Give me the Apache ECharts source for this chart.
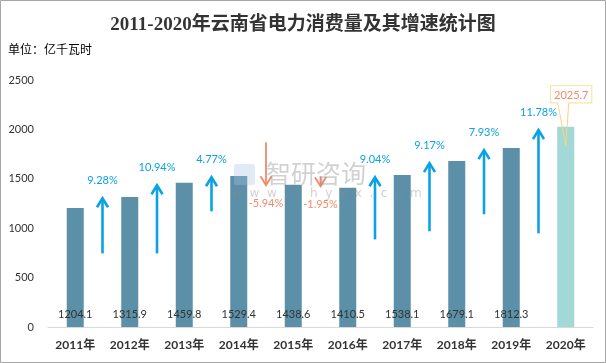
<!DOCTYPE html>
<html>
<head>
<meta charset="utf-8">
<script src="https://cdn.jsdelivr.net/npm/echarts@6/dist/echarts.min.js"></script>
<style>html,body{margin:0;padding:0;background:#fff;}#c{width:606px;height:363px;}</style>
</head>
<body>
<div id="c"></div>
<script>
const categories = ['2011年','2012年','2013年','2014年','2015年','2016年','2017年','2018年','2019年','2020年'];
const consumption = [1204.1, 1315.9, 1459.8, 1529.4, 1438.6, 1410.5, 1538.1, 1679.1, 1812.3, 2025.7];
const growthLabels = ['9.28%','10.94%','4.77%','-5.94%','-1.95%','9.04%','9.17%','7.93%','11.78%'];
// decorative arrows between consecutive years (start / end, in axis units)
const arrowFrom = [745, 745, 1171, 1871, 1526, 887, 969, 1141, 948];
const arrowTo   = [1303, 1435, 1516, 1435, 1425, 1516, 1658, 1790, 1993];
const yTicks = [0, 500, 1000, 1500, 2000, 2500];

const numFont = "Lato, 'Noto Sans CJK SC', sans-serif";
const chart = echarts.init(document.getElementById('c'), null, {renderer: 'canvas'});

function renderArrow(params, api) {
  const i = api.value(0);
  const half = api.size([1, 0])[0] / 2;
  const p1 = api.coord([i, api.value(1)]);
  const p2 = api.coord([i, api.value(2)]);
  const x = p1[0] + half;
  const up = api.value(2) > api.value(1);
  const color = up ? '#0aa2e2' : '#f08a6c';
  const lw = up ? 2.6 : 1.8;
  const y1 = p1[1], y2 = p2[1];
  const dir = up ? 1 : -1;
  const hw = 5.5, hh = 9;
  return {
    type: 'group',
    children: [
      {type: 'line', shape: {x1: x, y1: y1, x2: x, y2: y2 + dir * 1}, style: {stroke: color, lineWidth: lw}},
      {type: 'polyline', shape: {points: [[x - hw, y2 + dir * hh], [x, y2], [x + hw, y2 + dir * hh]]}, style: {stroke: color, lineWidth: lw, fill: null}},
      {type: 'text', x: x, y: up ? y2 - 18 : y2 + 18, style: {text: growthLabels[params.dataIndex], fill: color, font: '11px ' + numFont, align: 'center', verticalAlign: 'middle'}}
    ]
  };
}

const option = {
  backgroundColor: '#fff',
  animation: false,
  title: {
    text: '2011-2020年云南省电力消费量及其增速统计图',
    left: 'center', top: 11,
    textStyle: {fontFamily: "'Liberation Serif', 'Noto Sans CJK SC', serif", fontSize: 19, fontWeight: 'bold', color: '#333'}
  },
  grid: {left: 48, right: 13, top: 80, bottom: 36},
  xAxis: {
    type: 'category', data: categories,
    axisLine: {lineStyle: {color: '#d9d9d9', width: 1}},
    axisTick: {show: false},
    axisLabel: {color: '#333', fontWeight: 'bold', fontSize: 12, fontFamily: numFont, margin: 12}
  },
  yAxis: {
    type: 'value', min: yTicks[0], max: yTicks[yTicks.length - 1], interval: 500,
    axisLine: {show: false}, axisTick: {show: false}, splitLine: {show: false},
    axisLabel: {color: '#333', fontSize: 11, fontFamily: numFont, margin: 14, formatter: v => String(v)}
  },
  series: [
    {
      type: 'bar', barWidth: 17,
      data: consumption.map((v, i) => i === consumption.length - 1
        ? {value: v, itemStyle: {color: '#a2d8d5'}, label: {show: false}}
        : v),
      itemStyle: {color: '#5b90a8'},
      label: {show: true, position: 'insideBottom', distance: 7, color: '#333', fontSize: 11, fontFamily: numFont},
      z: 2
    },
    {
      type: 'custom',
      data: arrowFrom.map((f, i) => [i, f, arrowTo[i]]),
      encode: {x: 0, y: [1, 2]},
      renderItem: renderArrow,
      clip: false,
      z: 3
    }
  ]
};
chart.setOption(option);

// callout for the last value, positioned from the chart's own scales
const last = consumption.length - 1;
const p = chart.convertToPixel({gridIndex: 0}, [last, consumption[last]]);
const bx = p[0] - 15, by = p[1] - 41, bw = 41, bh = 17;
chart.setOption({
  graphic: [
    {type: 'rect', shape: {x: 0.5, y: 0.5, width: 605, height: 362}, style: {fill: null, stroke: '#a6a6a6', lineWidth: 1}, z: 100},
    {type: 'text', left: 8, top: 43, style: {text: '单位：亿千瓦时', fill: '#000', font: "12px 'Noto Sans CJK SC', sans-serif"}},
    {type: 'text', left: 266, top: 161, style: {text: '智研咨询', fill: 'rgba(140,140,140,0.4)', font: "25px 'Noto Sans CJK SC', sans-serif"}, z: 60},
    {type: 'text', left: 232, top: 188, style: {text: 'w  w  w  .  c  h  y  x  x  .  c  o  m', fill: 'rgba(140,140,140,0.4)', font: "12px 'DejaVu Sans', sans-serif"}, z: 60},
    {type: 'rect', shape: {x: 234, y: 164, width: 21, height: 21, r: 2}, style: {fill: 'rgba(170,195,225,0.35)'}, z: 60},
    {type: 'polygon', shape: {points: [[bx, by], [bx + bw, by], [bx + bw, by + bh], [p[0] + 3, by + bh], [p[0], p[1] + 19], [p[0] - 8, by + bh], [bx, by + bh]]},
      style: {fill: 'rgba(255,255,255,0.01)', stroke: '#f8d67c', lineWidth: 1}, z: 50},
    {type: 'rect', shape: {x: bx + 0.5, y: by + 0.5, width: bw - 1, height: bh - 1}, style: {fill: '#fff'}, z: 51},
    {type: 'text', x: bx + bw / 2, y: by + bh / 2 + 1, style: {text: String(consumption[last]), fill: '#f08a6c', font: '11px ' + numFont, align: 'center', verticalAlign: 'middle'}, z: 52}
  ]
});
</script>
</body>
</html>
